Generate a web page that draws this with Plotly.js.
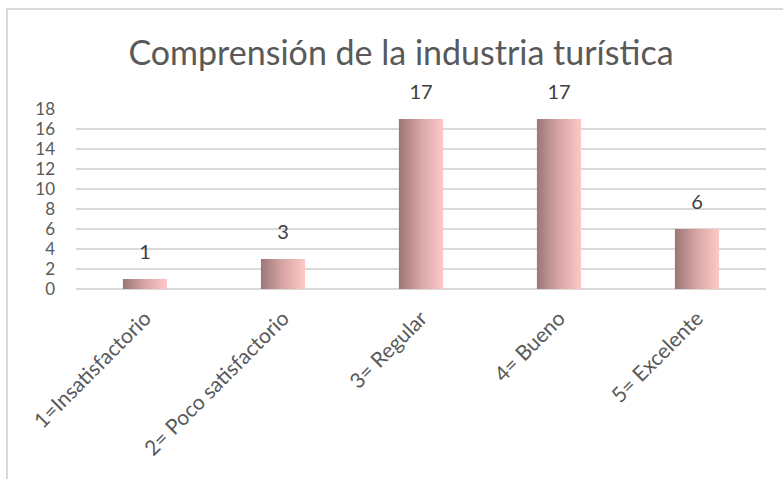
<!DOCTYPE html>
<html>
<head>
<meta charset="utf-8">
<script src="https://cdn.plot.ly/plotly-3.0.1.min.js"></script>
<style>
  html, body { margin: 0; padding: 0; background: #ffffff; overflow: hidden; }
  #chart { width: 783px; height: 479px; position: relative; }
  #frame { position: absolute; left: 6px; top: 8px; width: 900px; height: 600px;
           border-left: 2px solid #d9d9d9; border-top: 2px solid #d9d9d9; pointer-events: none; }
</style>
</head>
<body>
<div id="chart"></div>
<div id="frame"></div>
<script>
const categories = ["1=Insatisfactorio", "2= Poco satisfactorio", "3= Regular", "4= Bueno", "5= Excelente"];
const values = [1, 3, 17, 17, 6];
const yTicks = [0, 2, 4, 6, 8, 10, 12, 14, 16, 18];
const chartTitle = "Comprensión de la industria turística";

const FONT = "Lato, 'Open Sans', sans-serif";

const traces = [
  {
    type: "bar",
    x: categories,
    y: values,
    marker: { color: "#d9a3a3", line: { width: 0 } },
    hoverinfo: "x+y",
    showlegend: false
  },
  {
    type: "scatter",
    mode: "markers+text",
    x: categories,
    y: values,
    text: values.map(String),
    textposition: "top center",
    textfont: { family: FONT, size: 20, color: "#404040" },
    marker: { size: 22, color: "rgba(0,0,0,0)" },
    hoverinfo: "skip",
    showlegend: false,
    cliponaxis: false
  }
];

const layout = {
  width: 783,
  height: 479,
  margin: { l: 76, r: 17, t: 109, b: 190 },
  paper_bgcolor: "rgba(0,0,0,0)",
  plot_bgcolor: "rgba(0,0,0,0)",
  font: { family: FONT, color: "#595959" },
  title: {
    text: chartTitle,
    font: { family: FONT, size: 34, color: "#595959" },
    x: 401 / 783,
    xanchor: "center",
    xref: "container",
    y: 1 - 53 / 479,
    yanchor: "middle",
    yref: "container"
  },
  bargap: 0.68,
  xaxis: {
    type: "category",
    tickangle: -45,
    tickfont: { family: FONT, size: 21, color: "#595959" },
    ticks: "",
    ticklabelstandoff: 12,
    showgrid: false,
    showline: false,
    zeroline: false,
    fixedrange: true
  },
  yaxis: {
    range: [0, 18],
    tickvals: yTicks,
    ticktext: yTicks.map(String),
    tickfont: { family: FONT, size: 17, color: "#595959" },
    ticks: "",
    ticklabelstandoff: 20,
    showgrid: true,
    gridcolor: "#d9d9d9",
    gridwidth: 1.6,
    zeroline: true,
    zerolinecolor: "#d9d9d9",
    zerolinewidth: 1.6,
    showline: false,
    fixedrange: true
  }
};

Plotly.newPlot("chart", traces, layout, { displayModeBar: false, staticPlot: true }).then(function (gd) {
  const svg = gd.querySelector("svg.main-svg");
  const ns = "http://www.w3.org/2000/svg";
  let defs = svg.querySelector("defs");
  if (!defs) { defs = document.createElementNS(ns, "defs"); svg.insertBefore(defs, svg.firstChild); }
  const grad = document.createElementNS(ns, "linearGradient");
  grad.setAttribute("id", "barGrad");
  grad.setAttribute("x1", "0"); grad.setAttribute("y1", "0");
  grad.setAttribute("x2", "1"); grad.setAttribute("y2", "0");
  [["0", "#9c7676"], ["0.5", "#d8a6a6"], ["1", "#fec8c8"]].forEach(function (s) {
    const st = document.createElementNS(ns, "stop");
    st.setAttribute("offset", s[0]);
    st.setAttribute("stop-color", s[1]);
    grad.appendChild(st);
  });
  defs.appendChild(grad);
  gd.querySelectorAll(".trace.bars .point path").forEach(function (p) {
    p.style.fill = "url(#barGrad)";
    p.style.fillOpacity = "1";
  });
});
</script>
</body>
</html>
